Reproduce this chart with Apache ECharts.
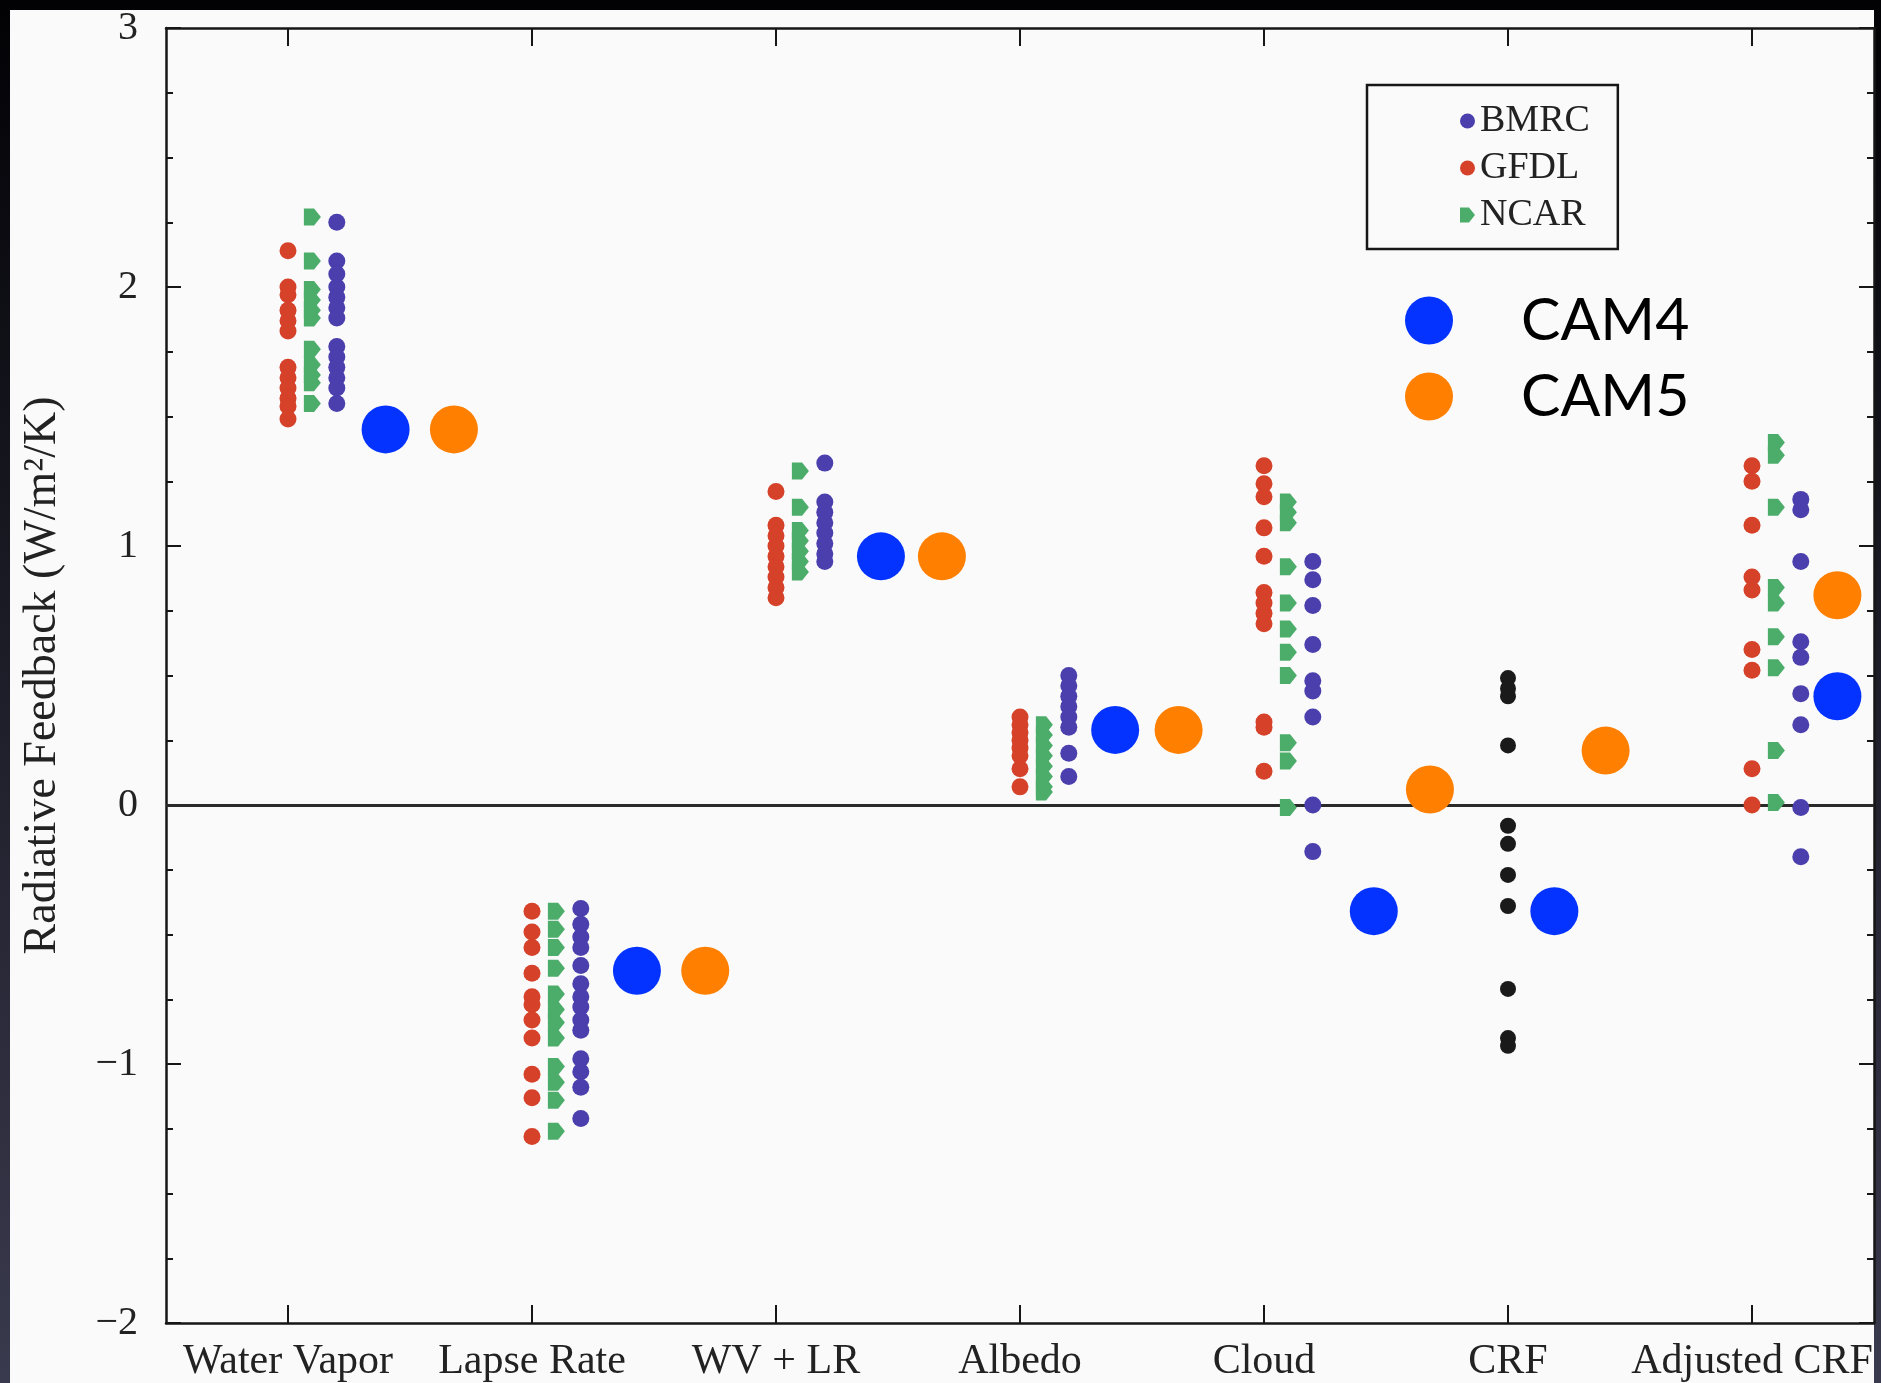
<!DOCTYPE html>
<html>
<head>
<meta charset="utf-8">
<title>Radiative Feedback</title>
<script src="https://cdn.jsdelivr.net/npm/echarts@6/dist/echarts.min.js"></script>
<style>
  html, body { margin: 0; padding: 0; background: #050508; }
  #chart { width: 1881px; height: 1383px; }
</style>
</head>
<body>
<div id="chart"></div>
<script>
// Feedback categories along the x axis
const categories = ['Water Vapor', 'Lapse Rate', 'WV + LR', 'Albedo', 'Cloud', 'CRF', 'Adjusted CRF'];

// Y-axis range (W/m^2/K)
const yMin = -2;
const yMax = 3;

// Per-model feedback estimates, one list per category (W/m^2/K)
const gfdl = [
  [2.14, 2.00, 1.97, 1.91, 1.87, 1.83, 1.69, 1.65, 1.61, 1.57, 1.54, 1.49],
  [-0.41, -0.49, -0.55, -0.65, -0.74, -0.77, -0.83, -0.90, -1.04, -1.13, -1.28],
  [1.21, 1.08, 1.04, 1.00, 0.96, 0.92, 0.88, 0.84, 0.80],
  [0.34, 0.31, 0.28, 0.25, 0.22, 0.19, 0.14, 0.07],
  [1.31, 1.24, 1.19, 1.07, 0.96, 0.82, 0.78, 0.74, 0.70, 0.32, 0.30, 0.13],
  [],
  [1.31, 1.25, 1.08, 0.88, 0.83, 0.60, 0.52, 0.14, 0.00]
];
const ncar = [
  [2.27, 2.10, 1.99, 1.95, 1.91, 1.88, 1.76, 1.70, 1.66, 1.63, 1.55],
  [-0.41, -0.48, -0.55, -0.63, -0.73, -0.79, -0.84, -0.90, -1.01, -1.07, -1.14, -1.26],
  [1.29, 1.15, 1.06, 1.02, 0.98, 0.94, 0.90],
  [0.31, 0.27, 0.23, 0.19, 0.15, 0.11, 0.07, 0.05],
  [1.17, 1.13, 1.09, 0.92, 0.78, 0.68, 0.59, 0.50, 0.24, 0.17, -0.01],
  [],
  [1.40, 1.35, 1.15, 0.84, 0.78, 0.65, 0.53, 0.21, 0.01]
];
const bmrc = [
  [2.25, 2.10, 2.05, 2.00, 1.96, 1.92, 1.88, 1.77, 1.73, 1.69, 1.65, 1.61, 1.55],
  [-0.40, -0.46, -0.51, -0.55, -0.62, -0.69, -0.74, -0.78, -0.83, -0.87, -0.98, -1.03, -1.09, -1.21],
  [1.32, 1.17, 1.13, 1.09, 1.05, 1.01, 0.97, 0.94],
  [0.50, 0.46, 0.42, 0.38, 0.34, 0.30, 0.20, 0.11],
  [0.94, 0.87, 0.77, 0.62, 0.48, 0.44, 0.34, 0.00, -0.18],
  [],
  [1.18, 1.14, 0.94, 0.63, 0.57, 0.43, 0.31, -0.01, -0.20]
];
// Cloud radiative forcing change estimates (all models, black)
const crf = [0.49, 0.45, 0.42, 0.23, -0.08, -0.15, -0.27, -0.39, -0.71, -0.90, -0.93];

// CAM4 / CAM5 feedbacks and their horizontal placement (category units)
const cam4Values = [1.45, -0.64, 0.96, 0.29, -0.41, -0.41, 0.42];
const cam4X      = [0.40, 1.43, 2.43, 3.39, 4.45, 5.19, 6.35];
const cam5Values = [1.45, -0.64, 0.96, 0.29, 0.06, 0.21, 0.81];
const cam5X      = [0.68, 1.71, 2.68, 3.65, 4.68, 5.40, 6.35];

const catTicks = categories.map((_, i) => i);

function columnPoints(lists, offset) {
  const pts = [];
  lists.forEach((vals, i) => vals.forEach(v => pts.push([i + offset, v])));
  return pts;
}

const serif = 'Liberation Serif';
const axisColor = '#161616';
const pentagon = 'path://M0,0 L6,0 L10,5 L6,10 L0,10 Z';
const dotSize = 17;

const chart = echarts.init(document.getElementById('chart'));

const yAxisBase = {
  type: 'value',
  min: yMin,
  max: yMax,
  interval: 1,
  axisLine: { show: true, onZero: false, lineStyle: { color: axisColor, width: 2.5 } },
  axisTick: { show: true, inside: true, length: 15, lineStyle: { color: axisColor, width: 2 } },
  minorTick: { show: true, splitNumber: 4, length: 7, lineStyle: { color: axisColor, width: 2 } },
  splitLine: { show: false },
  minorSplitLine: { show: false }
};

const xAxisBase = {
  type: 'value',
  min: -0.5,
  max: 6.5,
  axisLine: { show: true, onZero: false, lineStyle: { color: axisColor, width: 2.5 } },
  axisTick: { show: true, inside: true, length: 18, customValues: catTicks, lineStyle: { color: axisColor, width: 2 } },
  splitLine: { show: false }
};

chart.setOption({
  backgroundColor: {
    type: 'linear', x: 0, y: 0, x2: 0, y2: 1,
    colorStops: [{ offset: 0, color: '#020205' }, { offset: 1, color: '#3a3a4e' }]
  },
  animation: false,
  graphic: [{
    type: 'rect',
    z: -10,
    shape: { x: 10, y: 10, width: 1864, height: 1373 },
    style: { fill: '#fafafa' },
    silent: true
  }],
  grid: { left: 166, right: 7, top: 28, bottom: 60 },
  xAxis: [
    Object.assign({}, xAxisBase, {
      position: 'bottom',
      axisLabel: {
        show: true,
        customValues: catTicks,
        margin: 18,
        fontFamily: serif,
        fontSize: 42,
        color: '#222',
        formatter: v => categories[Math.round(v)]
      }
    }),
    Object.assign({}, xAxisBase, {
      position: 'top',
      axisLabel: { show: false }
    })
  ],
  yAxis: [
    Object.assign({}, yAxisBase, {
      position: 'left',
      name: 'Radiative Feedback (W/m²/K)',
      nameLocation: 'middle',
      nameRotate: 90,
      nameGap: 100,
      nameTextStyle: { fontFamily: serif, fontSize: 46, color: '#222' },
      axisLabel: {
        show: true,
        margin: 28,
        fontFamily: serif,
        fontSize: 40,
        color: '#222',
        formatter: v => (v < 0 ? '\u2212' + Math.abs(v) : String(v))
      }
    }),
    Object.assign({}, yAxisBase, {
      position: 'right',
      axisLabel: { show: false }
    })
  ],
  legend: [
    {
      data: ['BMRC', 'GFDL', 'NCAR'],
      orient: 'vertical',
      left: 1367,
      top: 85,
      borderColor: axisColor,
      borderWidth: 2.5,
      padding: [17, 28, 15, 93],
      itemWidth: 15,
      itemHeight: 15,
      itemGap: 9,
      textStyle: { fontFamily: serif, fontSize: 38, color: '#222', lineHeight: 36 }
    },
    {
      data: ['CAM4', 'CAM5'],
      orient: 'vertical',
      left: 1405,
      top: 291,
      padding: 0,
      itemWidth: 174,
      itemHeight: 48,
      itemGap: 17,
      textStyle: { fontFamily: 'Lato', fontSize: 59, color: '#000', lineHeight: 58 }
    }
  ],
  series: [
    {
      name: 'GFDL',
      type: 'scatter',
      symbol: 'circle',
      symbolSize: dotSize,
      itemStyle: { color: '#d6412a', opacity: 1 },
      data: columnPoints(gfdl, 0),
      markLine: {
        silent: true,
        symbol: 'none',
        label: { show: false },
        lineStyle: { color: '#2a2a2a', width: 3, type: 'solid' },
        data: [{ yAxis: 0 }],
        z: 1
      }
    },
    {
      name: 'NCAR',
      type: 'scatter',
      symbol: pentagon,
      symbolSize: dotSize,
      itemStyle: { color: '#4cad6b', opacity: 1 },
      data: columnPoints(ncar, 0.1)
    },
    {
      name: 'BMRC',
      type: 'scatter',
      symbol: 'circle',
      symbolSize: dotSize,
      itemStyle: { color: '#4a3fad', opacity: 1 },
      data: columnPoints(bmrc, 0.2)
    },
    {
      name: 'CRF',
      type: 'scatter',
      symbol: 'circle',
      symbolSize: 16,
      itemStyle: { color: '#1a1a1a', opacity: 1 },
      data: crf.map(v => [5, v])
    },
    {
      name: 'CAM4',
      type: 'scatter',
      symbol: 'circle',
      symbolSize: 48,
      z: 5,
      itemStyle: { color: '#0433ff', opacity: 1 },
      data: cam4Values.map((v, i) => [cam4X[i], v])
    },
    {
      name: 'CAM5',
      type: 'scatter',
      symbol: 'circle',
      symbolSize: 48,
      z: 5,
      itemStyle: { color: '#ff7f00', opacity: 1 },
      data: cam5Values.map((v, i) => [cam5X[i], v])
    }
  ]
});
</script>
</body>
</html>
